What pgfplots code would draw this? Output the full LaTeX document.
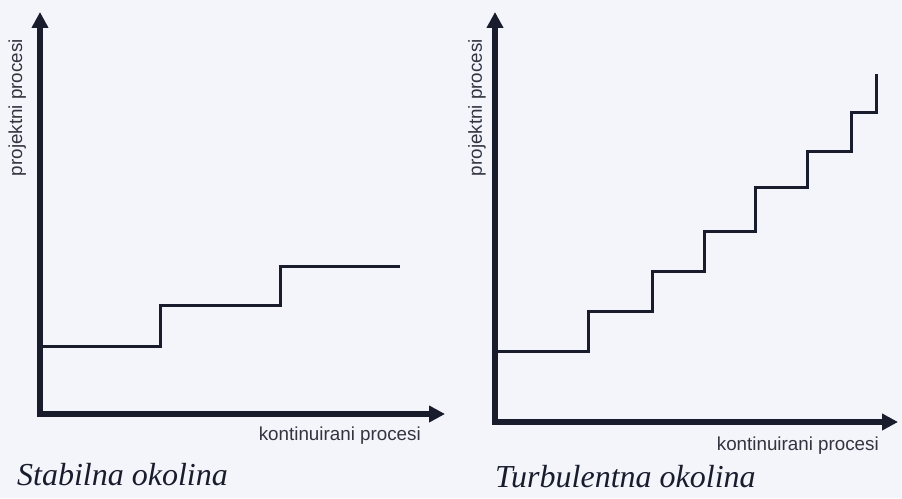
\documentclass[border=0pt]{standalone}
\usepackage{fontspec}
\setmainfont{Liberation Sans}
\newfontfamily\titlefont{Liberation Serif}
\usepackage{pgfplots}
\pgfplotsset{compat=1.18}
\usetikzlibrary{arrows.meta}
\definecolor{ink}{RGB}{25,28,45}
\definecolor{bg}{RGB}{243,245,250}
\definecolor{lbl}{RGB}{50,52,64}
\pgfplotsset{
  stepaxis/.style={
    scale only axis, axis lines=left, xmin=0, ymin=0,
    xtick=\empty, ytick=\empty, clip=false,
    axis line style={ink, line width=6pt, line cap=rect, -{Triangle[length=16pt,width=16pt]}},
    anchor=south west,
    label style={font=\fontsize{18.8}{20}\selectfont, text=lbl, inner sep=0pt},
  }
}
\begin{document}
\begin{tikzpicture}
\fill[bg] (0,0) rectangle (902pt,498pt);
\begin{axis}[stepaxis, at={(40pt,84pt)}, width=405pt, height=402pt, xmax=405, ymax=402,
  xlabel={kontinuirani procesi}, ylabel={projektni procesi},
  xlabel style={at={(axis description cs:0.9407,-0.0647)}, anchor=base east},
  ylabel style={at={(axis description cs:-0.0444,0.9328)}, anchor=base east},
]
\addplot[ink, line width=3pt, line join=miter, const plot] coordinates {(0,67) (120,108) (240,147) (360,147)};
\end{axis}
\begin{axis}[stepaxis, at={(495pt,76pt)}, width=403pt, height=410pt, xmax=403, ymax=410,
  xlabel={kontinuirani procesi}, ylabel={projektni procesi},
  xlabel style={at={(axis description cs:0.9529,-0.0683)}, anchor=base east},
  ylabel style={at={(axis description cs:-0.0323,0.934)}, anchor=base east},
]
\addplot[ink, line width=3pt, line join=miter, const plot] coordinates {(0,70) (93,110) (157,150) (209,190) (260,234) (312,270) (356,309) (381,348)};
\end{axis}
\node[anchor=base west, font=\titlefont\itshape\fontsize{32}{34}\selectfont, text=ink, inner sep=0pt] at (17pt,13pt) {Stabilna okolina};
\node[anchor=base west, font=\titlefont\itshape\fontsize{32}{34}\selectfont, text=ink, inner sep=0pt] at (495pt,11pt) {Turbulentna okolina};
\end{tikzpicture}
\end{document}
